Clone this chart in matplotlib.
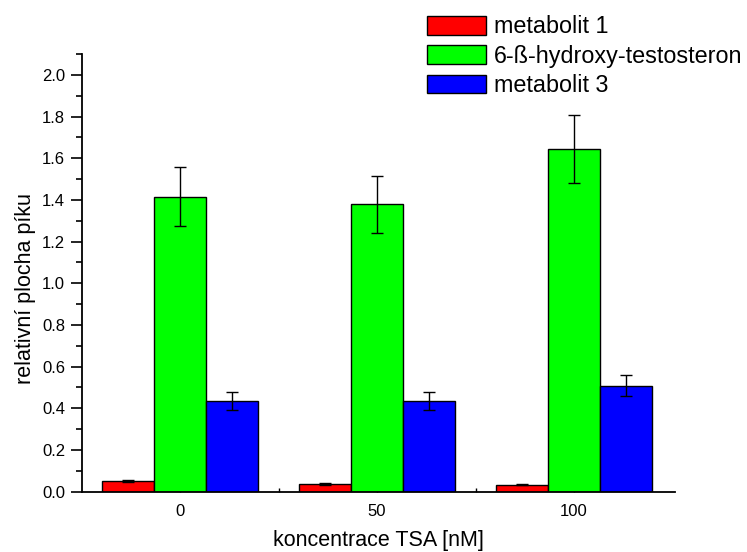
import matplotlib
matplotlib.use("Agg")
import matplotlib.pyplot as plt
import numpy as np

plt.rcParams['font.family'] = ['Liberation Sans', 'DejaVu Sans']

categories = ['0', '50', '100']
series_names = ['metabolit 1', '6-ß-hydroxy-testosteron', 'metabolit 3']
values = {
    'metabolit 1': [0.053, 0.037, 0.034],
    '6-ß-hydroxy-testosteron': [1.416, 1.378, 1.643],
    'metabolit 3': [0.436, 0.436, 0.508],
}
errors = {
    'metabolit 1': [0.005, 0.003, 0.003],
    '6-ß-hydroxy-testosteron': [0.142, 0.138, 0.164],
    'metabolit 3': [0.043, 0.044, 0.050],
}
colors = ['#FF0000', '#00FF00', '#0000FF']
ytick_vals = [0.0, 0.2, 0.4, 0.6, 0.8, 1.0, 1.2, 1.4, 1.6, 1.8, 2.0]

fig = plt.figure(figsize=(7.47, 5.52), dpi=100)
ax = fig.add_axes([0.1094, 0.1092, 0.7942, 0.7930])

x = np.arange(len(categories))
w = 0.264
offsets = [-w, 0, w]
for name, off, col in zip(series_names, offsets, colors):
    ax.bar(x + off, values[name], width=w, color=col, edgecolor='black',
           linewidth=1.0, label=name, zorder=2)
    ax.errorbar(x + off, values[name], yerr=errors[name], fmt='none',
                ecolor='black', elinewidth=1.0, capsize=4.5, capthick=1.0, zorder=3)

ax.set_xlim(-0.5, 2.513)
ax.set_ylim(0, 2.1)
ax.set_yticks(ytick_vals)
ax.set_yticklabels([f"{v:.1f}" for v in ytick_vals])
ax.set_yticks(np.arange(0.1, 2.11, 0.2), minor=True)
ax.set_xticks(x)
ax.set_xticklabels(categories)
ax.set_xticks([0.5, 1.5], minor=True)

for s in ['top', 'right']:
    ax.spines[s].set_visible(False)
for s in ['left', 'bottom']:
    ax.spines[s].set_linewidth(1.3)
    ax.spines[s].set_zorder(4)

ax.tick_params(axis='y', which='major', direction='out', length=8, width=1.2,
               labelsize=12, pad=4)
ax.tick_params(axis='y', which='minor', direction='out', length=4.5, width=1.2)
ax.tick_params(axis='x', which='major', direction='in', length=3, width=1.0,
               labelsize=12, pad=9)
ax.tick_params(axis='x', which='minor', direction='in', length=3, width=1.0)

ax.set_xlabel('koncentrace TSA [nM]', fontsize=15.5, labelpad=7.5)
ax.set_ylabel('relativní plocha píku', fontsize=15.5)
ax.yaxis.set_label_coords(-0.077, 0.465)

fig.legend(loc='upper left', bbox_to_anchor=(0.571, 0.972), frameon=False,
           fontsize=16.8, handlelength=2.55, handleheight=0.86, handletextpad=0.35,
           labelspacing=0.27, borderpad=0, borderaxespad=0)

fig.savefig('out.png', dpi=100)
